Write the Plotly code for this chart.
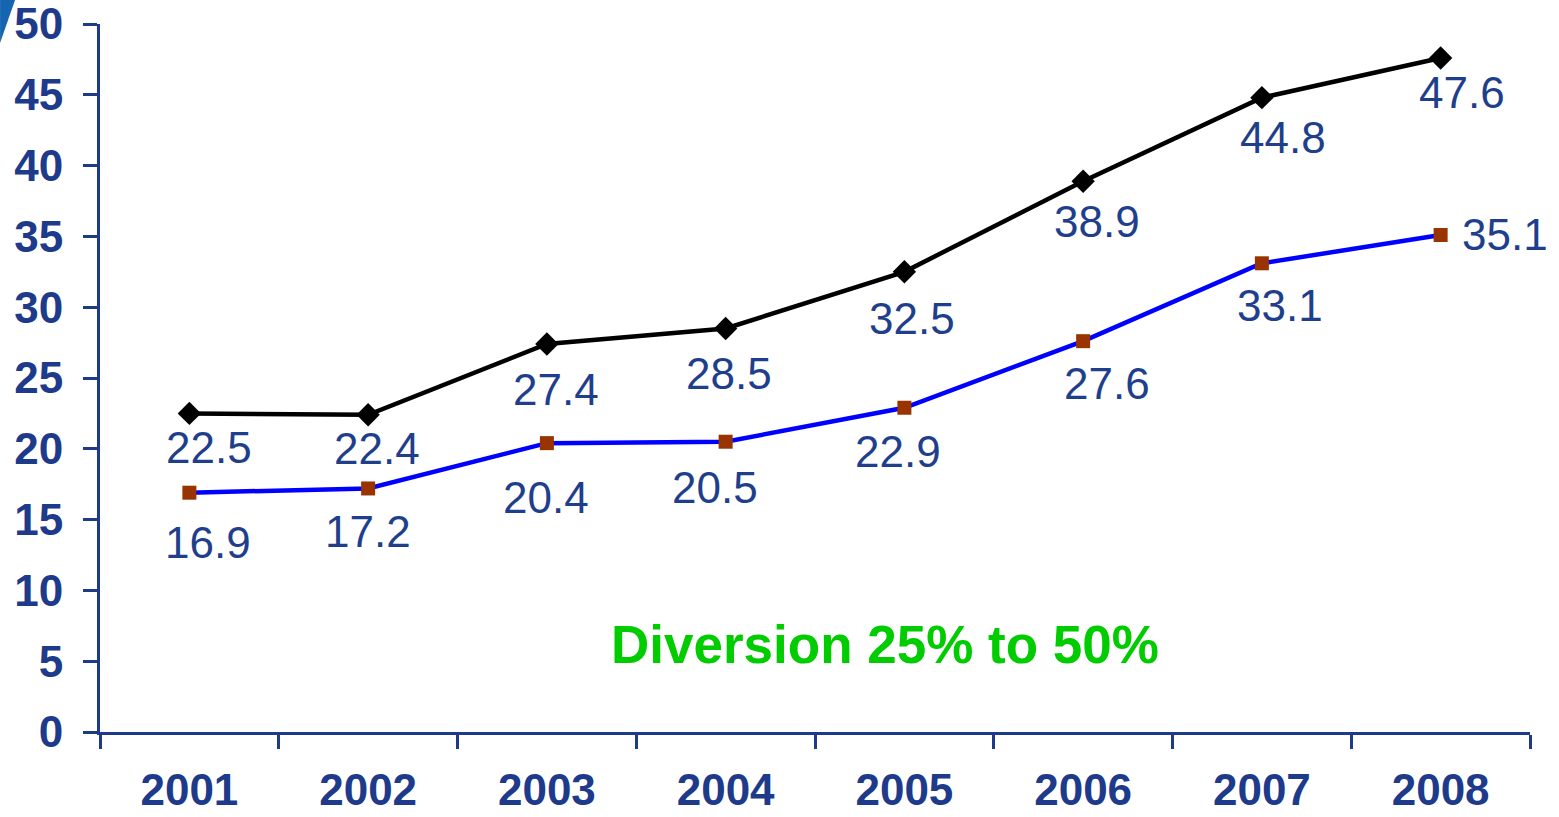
import plotly.graph_objects as go

years = ["2001", "2002", "2003", "2004", "2005", "2006", "2007", "2008"]
upper_values = [22.5, 22.4, 27.4, 28.5, 32.5, 38.9, 44.8, 47.6]
lower_values = [16.9, 17.2, 20.4, 20.5, 22.9, 27.6, 33.1, 35.1]
y_ticks = [0, 5, 10, 15, 20, 25, 30, 35, 40, 45, 50]
note_text = "Diversion 25% to 50%"

# label offsets in pixels (style only)
upper_dx = [20, 9, 9, 3, 8, 14, 21, 21]
upper_dy = [-34, -34, -45, -45, -47, -40, -40, -35]
lower_dx = [19, 0, -1, -11, -6, 24, 18, 64]
lower_dy = [-50, -43, -54, -46, -44, -42, -42, 0]

AXIS_BLUE = "#1E3A8A"
LABEL_BLUE = "#1F3F8C"
FONT = "Liberation Sans, Arial, sans-serif"

fig = go.Figure()
fig.add_trace(go.Scatter(
    x=years, y=upper_values, mode="lines+markers",
    line=dict(color="black", width=4.5),
    marker=dict(symbol="diamond", size=18, color="black"),
    showlegend=False, hoverinfo="x+y",
))
fig.add_trace(go.Scatter(
    x=years, y=lower_values, mode="lines+markers",
    line=dict(color="#0000FF", width=4.5),
    marker=dict(symbol="square", size=14, color="#993300"),
    showlegend=False, hoverinfo="x+y",
))

annotations = []
for i, v in enumerate(upper_values):
    annotations.append(dict(x=i, y=v, xref="x", yref="y", text=f"{v:.1f}", showarrow=False,
                            xshift=upper_dx[i], yshift=upper_dy[i],
                            font=dict(family=FONT, size=44, color=LABEL_BLUE)))
for i, v in enumerate(lower_values):
    annotations.append(dict(x=i, y=v, xref="x", yref="y", text=f"{v:.1f}", showarrow=False,
                            xshift=lower_dx[i], yshift=lower_dy[i],
                            font=dict(family=FONT, size=44, color=LABEL_BLUE)))
annotations.append(dict(x=0.549, y=6.2, xref="paper", yref="y", text=f"<b>{note_text}</b>",
                        showarrow=False, xanchor="center", yanchor="middle",
                        font=dict(family=FONT, size=53, color="#00CC00")))

fig.update_layout(
    width=1559, height=817,
    margin=dict(l=100, r=29, t=24, b=85, autoexpand=False),
    paper_bgcolor="white", plot_bgcolor="white",
    annotations=annotations,
    xaxis=dict(
        type="category", range=[-0.5, 7.5], tickson="boundaries",
        showline=True, linecolor=AXIS_BLUE, linewidth=3,
        ticks="outside", ticklen=14, tickwidth=3, tickcolor=AXIS_BLUE,
        showgrid=False, zeroline=False, automargin=False,
        tickfont=dict(family=FONT, size=44, color=AXIS_BLUE, weight="bold"),
        ticklabelstandoff=17, ticklabeloverflow="allow",
    ),
    yaxis=dict(
        range=[0, 50], tickvals=y_ticks,
        showline=True, linecolor=AXIS_BLUE, linewidth=3,
        ticks="outside", ticklen=14, tickwidth=3, tickcolor=AXIS_BLUE,
        showgrid=False, zeroline=False, automargin=False,
        tickfont=dict(family=FONT, size=44, color=AXIS_BLUE, weight="bold"),
        ticklabelstandoff=11, ticklabeloverflow="allow",
    ),
)

# small blue corner decoration at the top-left of the page
fig.add_shape(type="path", xref="paper", yref="paper",
              path="M -0.0699 1.0339 L -0.0594 1.0339 L -0.0699 0.9732 Z",
              fillcolor="#1565B0", line=dict(width=0), layer="above")

fig.write_html("out.html", config={"displayModeBar": False},
               post_script="document.body.style.margin='0';document.body.style.overflow='hidden';")
